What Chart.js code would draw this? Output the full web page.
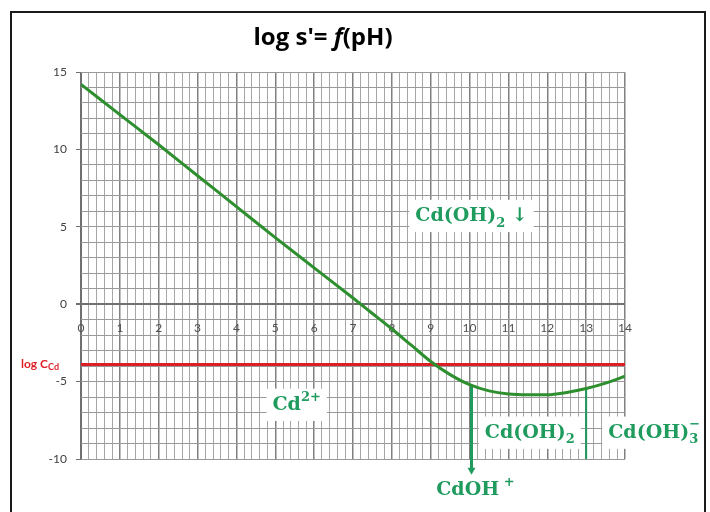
<!DOCTYPE html>
<html>
<head>
<meta charset="utf-8">
<script src="https://cdn.jsdelivr.net/npm/chart.js@4.4.1/dist/chart.umd.min.js"></script>
<style>
  html, body { margin: 0; padding: 0; background: #fff; }
  #wrap { width: 710px; height: 512px; position: relative; }
</style>
</head>
<body>
<div id="wrap"><canvas id="chart"></canvas></div>
<script>
// values
const phValues = [0, 1, 2, 3, 4, 5, 6, 7, 7.5, 8, 8.5, 9, 9.5, 10, 10.5, 11, 11.5, 12, 12.5, 13, 13.5, 14];
const logS = [14.2, 12.25, 10.3, 8.3, 6.3, 4.3, 2.35, 0.4, -0.6, -1.6, -2.65, -3.7, -4.55, -5.2, -5.6, -5.8, -5.85, -5.85, -5.7, -5.45, -5.1, -4.65];
const logC = -3.9;
const boundaryPH = [10.05, 13.0];
const boundaryTop = [-5.22, -5.45];
const boundaryBottom = [-10.7, -10];
const xTickLabels = [0, 1, 2, 3, 4, 5, 6, 7, 8, 9, 10, 11, 12, 13, 14];
const yTickLabels = [-10, -5, 0, 5, 10, 15];

const GREEN = '#2d8f2d';
const LABEL_GREEN = '#1f9b5e';
const RED = '#dc1f26';

const speciesLabels = [
    { x: 10.05, y: 5.7, box: true, parts: [{ t: 'Cd(OH)' }, { sub: '2' }, { t: ' ↓' }] },
    { x: 5.55, y: -6.5, box: true, parts: [{ t: 'Cd' }, { sup: '2+' }] },
    { x: 11.55, y: -8.3, box: true, parts: [{ t: 'Cd(OH)' }, { sub: '2' }] },
    { x: 14.75, y: -8.3, box: true, parts: [{ t: 'Cd(OH)' }, { sub: '3', sup: '−' }] },
    { x: 10.15, y: -12.0, box: false, parts: [{ t: 'CdOH' }, { sup: ' +' }] }
];

function isInt(v) { return Math.abs(v - Math.round(v)) < 1e-6; }

function drawRich(ctx, label, cx, cy, size) {
    const big = `bold ${size}px "DejaVu Serif"`;
    const small = `bold ${Math.round(size * 0.66)}px "DejaVu Serif"`;
    const widthOf = p => {
        if (p.t) { ctx.font = big; return ctx.measureText(p.t).width; }
        ctx.font = small;
        return Math.max(p.sub ? ctx.measureText(p.sub).width : 0, p.sup ? ctx.measureText(p.sup).width : 0);
    };
    const w = label.parts.reduce((s, p) => s + widthOf(p), 0);
    if (label.box) {
        ctx.fillStyle = '#fff';
        ctx.fillRect(cx - w / 2 - 6, cy - size * 0.85, w + 12, size * 1.7);
    }
    ctx.fillStyle = LABEL_GREEN;
    ctx.textBaseline = 'middle';
    ctx.textAlign = 'left';
    let x = cx - w / 2;
    label.parts.forEach(p => {
        const pw = widthOf(p);
        if (p.t) {
            ctx.font = big;
            ctx.fillText(p.t, x, cy);
        } else {
            ctx.font = small;
            if (p.sub) ctx.fillText(p.sub, x, cy + size * 0.38);
            if (p.sup) ctx.fillText(p.sup, x, cy - size * 0.4);
        }
        x += pw;
    });
}

const decorPlugin = {
    id: 'decor',
    beforeDraw(chart) {
        const ctx = chart.ctx;
        ctx.save();
        ctx.fillStyle = '#fff';
        ctx.fillRect(0, 0, chart.width, chart.height);

        // title with italic f
        const tparts = [["log s'= ", 'bold 24px "Open Sans"'], ['f', 'italic bold 24px "Open Sans"'], ['(pH)', 'bold 24px "Open Sans"']];
        let tw = 0;
        tparts.forEach(p => { ctx.font = p[1]; tw += ctx.measureText(p[0]).width; });
        let tx = 323 - tw / 2;
        ctx.fillStyle = '#000';
        ctx.textBaseline = 'alphabetic';
        tparts.forEach(p => { ctx.font = p[1]; ctx.fillText(p[0], tx, 45); tx += ctx.measureText(p[0]).width; });
        ctx.restore();
    },
    afterDatasetsDraw(chart) {
        const ctx = chart.ctx;
        const xs = chart.scales.x, ys = chart.scales.y;
        ctx.save();

        // arrow head under the CdOH+ boundary line
        const ax = xs.getPixelForValue(boundaryPH[0]);
        const ay = ys.getPixelForValue(boundaryBottom[0]);
        ctx.fillStyle = LABEL_GREEN;
        ctx.beginPath();
        ctx.moveTo(ax - 4, ay - 2);
        ctx.lineTo(ax + 4, ay - 2);
        ctx.lineTo(ax, ay + 5);
        ctx.closePath();
        ctx.fill();

        speciesLabels.forEach(l => drawRich(ctx, l, xs.getPixelForValue(l.x), ys.getPixelForValue(l.y), 19));

        // log C_Cd label next to the red line
        const ry = ys.getPixelForValue(logC);
        ctx.fillStyle = RED;
        ctx.textBaseline = 'middle';
        ctx.textAlign = 'left';
        ctx.font = 'bold 12px Lato';
        ctx.fillText('log C', 21, ry);
        const lw = ctx.measureText('log C').width;
        ctx.font = 'bold 9px Lato';
        ctx.fillText('Cd', 21 + lw, ry + 3);
        ctx.restore();
    },
    afterDraw(chart) {
        const ctx = chart.ctx;
        ctx.save();
        ctx.strokeStyle = '#1a1a1a';
        ctx.lineWidth = 2;
        ctx.strokeRect(11, 12, 694, 520);
        ctx.restore();
    }
};

const ctx = document.getElementById('chart').getContext('2d');

new Chart(ctx, {
    type: 'scatter',
    data: {
        datasets: [
            {
                label: 'log s\'',
                data: phValues.map((p, i) => ({ x: p, y: logS[i] })),
                showLine: true,
                borderColor: GREEN,
                borderWidth: 3,
                pointRadius: 0,
                cubicInterpolationMode: 'monotone'
            },
            {
                label: 'log C',
                data: [{ x: 0, y: logC }, { x: 14, y: logC }],
                showLine: true,
                borderColor: RED,
                borderWidth: 3,
                pointRadius: 0
            },
            {
                label: 'CdOH+ / Cd(OH)2',
                data: [{ x: boundaryPH[0], y: boundaryTop[0] }, { x: boundaryPH[0], y: boundaryBottom[0] }],
                showLine: true,
                borderColor: LABEL_GREEN,
                borderWidth: 3,
                pointRadius: 0,
                clip: false
            },
            {
                label: 'Cd(OH)2 / Cd(OH)3-',
                data: [{ x: boundaryPH[1], y: boundaryTop[1] }, { x: boundaryPH[1], y: boundaryBottom[1] }],
                showLine: true,
                borderColor: LABEL_GREEN,
                borderWidth: 2,
                pointRadius: 0,
                clip: false
            }
        ]
    },
    options: {
        responsive: true,
        maintainAspectRatio: false,
        animation: false,
        layout: { padding: { left: 0, right: 85, top: 72, bottom: 53 } },
        plugins: {
            legend: { display: false },
            tooltip: { enabled: false },
            title: { display: false }
        },
        scales: {
            x: {
                type: 'linear',
                position: { y: 0 },
                min: 0,
                max: 14,
                border: { display: false },
                grid: {
                    drawTicks: false,
                    color: c => isInt(c.tick.value) ? (c.tick.value === 0 ? '#707070' : '#808080') : '#a6a6a6',
                    lineWidth: c => c.tick.value === 0 ? 2 : (isInt(c.tick.value) ? 1.5 : 1)
                },
                ticks: {
                    stepSize: 0.2,
                    autoSkip: false,
                    maxRotation: 0,
                    padding: 17,
                    color: '#505050',
                    font: { family: 'Lato', size: 12 },
                    callback: v => (isInt(v) && xTickLabels.includes(Math.round(v))) ? String(Math.round(v)) : ''
                }
            },
            y: {
                type: 'linear',
                min: -10,
                max: 15,
                border: { display: false },
                afterFit: s => { s.width = 81; },
                grid: {
                    tickLength: 5,
                    color: c => c.tick.value === 0 ? '#707070' : '#999999',
                    lineWidth: c => c.tick.value === 0 ? 2 : 1,
                    tickColor: c => yTickLabels.includes(c.tick.value) ? '#707070' : 'rgba(0,0,0,0)'
                },
                ticks: {
                    stepSize: 1,
                    autoSkip: false,
                    padding: 9,
                    color: '#404040',
                    font: { family: 'Lato', size: 12 },
                    callback: v => yTickLabels.includes(v) ? String(v) : ''
                }
            }
        }
    },
    plugins: [decorPlugin]
});
</script>
</body>
</html>
